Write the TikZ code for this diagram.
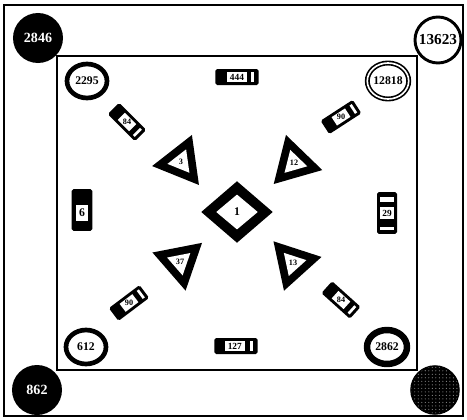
\documentclass[tikz,border=0pt]{standalone}
\usepackage{fontspec}
\setmainfont{Liberation Serif}
\usetikzlibrary{shapes.geometric, patterns, calc}

\begin{document}
\begin{tikzpicture}[
  x=0.03cm, y=-0.03cm,
  numfont/.style={font=\fontsize{#1}{#1}\selectfont\bfseries},
  numtext/.style={inner sep=0pt, numfont=#1},
  blackdot/.style={circle, fill=black, text=white, minimum size=1.5cm,
    inner sep=0pt, numfont=12},
  opendot/.style={circle, draw=black, line width=2.5pt, fill=white,
    minimum size=1.38cm, inner sep=0pt, numfont=13},
  ringdot/.style={ellipse, draw=black, line width=#1, fill=white,
    minimum width=1.2cm, minimum height=1.02cm, inner sep=0pt, numfont=10},
  doubledot/.style={ellipse, draw=black, double=white, line width=1.4pt,
    double distance=1.4pt, minimum width=1.2cm, minimum height=1.08cm,
    inner sep=0pt, numfont=10},
  tagbox/.style={fill=black, rounded corners=1.5pt, minimum width=1.3cm,
    minimum height=0.48cm, inner sep=0pt},
  taglabel/.style={fill=white, minimum width=0.6cm, minimum height=0.3cm,
    inner sep=0.5pt, numfont=8},
  tagstripe/.style={fill=white, minimum width=0.08cm, minimum height=0.3cm,
    inner sep=0pt},
  trishape/.style={regular polygon, regular polygon sides=3, fill=black,
    minimum size=1.75cm, inner sep=0pt},
  trilabel/.style={regular polygon, regular polygon sides=3, fill=white,
    minimum size=0.82cm, inner sep=0pt},
]

\useasboundingbox (0,0) rectangle (467,420);
\fill[white] (0,0) rectangle (467,420);

% Frames
\draw[line width=1.5pt] (4,5) rectangle (463,416);
\draw[line width=2pt] (57,56) rectangle (417,370);

% Corner circles
\node[blackdot] (c2846) at (38,38) {2846};
\node[opendot] (c13623) at (438,40) {13623};
\node[blackdot] (c862) at (37,390) {862};
\node[circle, draw=black, line width=1pt, minimum size=1.45cm,
      preaction={fill=black}, pattern=dots, pattern color=black!45]
  (cdots) at (435,390) {};

% Inner circles
\node[ringdot=4pt] (c2295) at (87,81) {2295};
\node[doubledot] (c12818) at (388,81) {12818};
\node[ringdot=4pt] (c612) at (86,347) {612};
\node[ringdot=5.5pt] (c2862) at (387,347) {2862};

% Horizontal tags
\node[tagbox] (t444) at (237,77) {};
\node[taglabel] at (t444) {444};
\node[tagstripe] at ($(t444.center)!0.72!(t444.east)$) {};

\node[tagbox] (t127) at (236,346) {};
\node[taglabel, xshift=-1pt] at (t127) {127};
\node[tagstripe] at ($(t127.center)!0.72!(t127.east)$) {};

% Vertical tags
\node[tagbox, rotate=-90, minimum width=1.25cm, minimum height=0.62cm]
  (t6) at (82,210) {};
\node[taglabel, minimum width=0.38cm, minimum height=0.5cm, numfont=10]
  at ($(t6.center)!0.15!(t6.east)$) {6};

\node[tagbox, rotate=-90, minimum width=1.25cm, minimum height=0.6cm]
  (t29) at (387,213) {};
\node[taglabel, minimum width=0.4cm, minimum height=0.35cm] at (t29) {29};
\node[tagstripe, rotate=-90, minimum width=0.15cm, minimum height=0.42cm]
  at ($(t29.center)!0.62!(t29.west)$) {};
\node[tagstripe, rotate=-90, minimum height=0.4cm]
  at ($(t29.center)!0.72!(t29.east)$) {};

% Diagonal tags
\node[tagbox, rotate=-45, minimum width=1.15cm] (t84a) at (127,122) {};
\node[taglabel, rotate=-45, minimum width=0.48cm] at (t84a) {};
\node[numtext=7] at (t84a) {84};
\node[tagstripe, rotate=-45] at ($(t84a.center)!0.76!(t84a.east)$) {};

\node[tagbox, rotate=33, minimum width=1.15cm] (t90a) at (341,117) {};
\node[taglabel, rotate=33, minimum width=0.48cm] at (t90a) {};
\node[numtext=7] at (t90a) {90};
\node[tagstripe, rotate=33] at ($(t90a.center)!0.76!(t90a.east)$) {};

\node[tagbox, rotate=37, minimum width=1.15cm] (t90b) at (129,303) {};
\node[taglabel, rotate=37, minimum width=0.48cm] at (t90b) {};
\node[numtext=7] at (t90b) {90};
\node[tagstripe, rotate=37] at ($(t90b.center)!0.76!(t90b.east)$) {};

\node[tagbox, rotate=-42, minimum width=1.15cm] (t84b) at (341,300) {};
\node[taglabel, rotate=-42, minimum width=0.48cm] at (t84b) {};
\node[numtext=7] at (t84b) {84};
\node[tagstripe, rotate=-42] at ($(t84b.center)!0.76!(t84b.east)$) {};

% Triangles
\node[trishape, rotate=-22] (tri3) at (181,162) {};
\node[trilabel, rotate=-22] at (tri3) {};
\node[numtext=7] at (tri3) {3};

\node[trishape, rotate=16] (tri12) at (294,163) {};
\node[trilabel, rotate=16] at (tri12) {};
\node[numtext=7] at (tri12) {12};

\node[trishape, rotate=-49] (tri37) at (180,262) {};
\node[trilabel, rotate=-49] at (tri37) {};
\node[numtext=7] at (tri37) {37};

\node[trishape, rotate=-78] (tri13) at (293,263) {};
\node[trilabel, rotate=-78] at (tri13) {};
\node[numtext=7] at (tri13) {13};

% Centre diamond
\node[diamond, fill=black, minimum width=2.15cm, minimum height=1.85cm,
      inner sep=0pt] (dia) at (237,212) {};
\node[diamond, fill=white, minimum width=1.25cm, minimum height=1.05cm,
      inner sep=0pt, numfont=10] at (dia) {1};

\end{tikzpicture}
\end{document}
